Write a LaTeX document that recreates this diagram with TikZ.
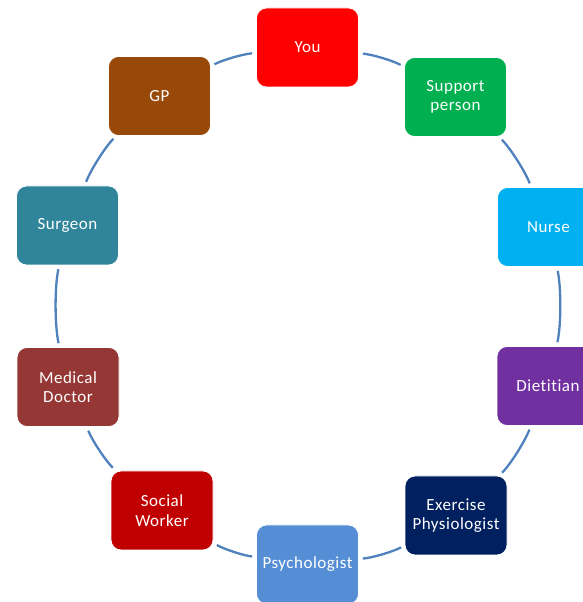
\documentclass[tikz,border=0pt]{standalone}
\usepackage{fontspec}
\setmainfont{Carlito}[Ligatures=NoCommon, LetterSpace=3]
\definecolor{linkblue}{RGB}{79,129,189}
\definecolor{youred}{RGB}{255,0,0}
\definecolor{supportgreen}{RGB}{0,176,80}
\definecolor{nurseblue}{RGB}{0,176,240}
\definecolor{dietpurple}{RGB}{112,48,160}
\definecolor{exnavy}{RGB}{0,32,96}
\definecolor{psychblue}{RGB}{85,142,213}
\definecolor{socialred}{RGB}{192,0,0}
\definecolor{docbrown}{RGB}{149,55,53}
\definecolor{surgteal}{RGB}{49,133,155}
\definecolor{gpbrown}{RGB}{152,72,7}

\begin{document}
\begin{tikzpicture}[x=1pt, y=1pt]
    % Styles
    \tikzstyle{member} = [rectangle, draw=white, line width=0.8pt, rounded corners=10pt,
        minimum width=102pt, minimum height=79pt, text=white, align=center,
        font=\fontsize{17}{19.5}\selectfont]
    \tikzstyle{link} = [linkblue, line width=2.3pt, bend left=12, looseness=0.7,
        shorten <=4pt, shorten >=4pt]

    \useasboundingbox (0,0) rectangle (583,602);

    % Care team, clockwise from the top
    \node [member, fill=youred] (you) at (307.5,554.5) {You};
    \node [member, fill=supportgreen] (support) at (455.5,505) {Support\\person};
    \node [member, fill=nurseblue] (nurse) at (548.5,375) {Nurse};
    \node [member, fill=dietpurple] (diet) at (548,216) {Dietitian};
    \node [member, fill=exnavy] (exphys) at (456,86.5) {Exercise\\Physiologist};
    \node [member, fill=psychblue] (psych) at (307.5,37.5) {Psychologist};
    \node [member, fill=socialred] (social) at (162,91.5) {Social\\Worker};
    \node [member, fill=docbrown] (meddoc) at (68,215) {Medical\\Doctor};
    \node [member, fill=surgteal] (surgeon) at (67.5,376.5) {Surgeon};
    \node [member, fill=gpbrown] (gp) at (159.5,506) {GP};

    % Ring links
    \draw [link] (you) to (support);
    \draw [link] (support) to (nurse);
    \draw [link] (nurse) to (diet);
    \draw [link] (diet) to (exphys);
    \draw [link] (exphys) to (psych);
    \draw [link] (psych) to (social);
    \draw [link] (social) to (meddoc);
    \draw [link] (meddoc) to (surgeon);
    \draw [link] (surgeon) to (gp);
    \draw [link] (gp) to (you);
\end{tikzpicture}
\end{document}
